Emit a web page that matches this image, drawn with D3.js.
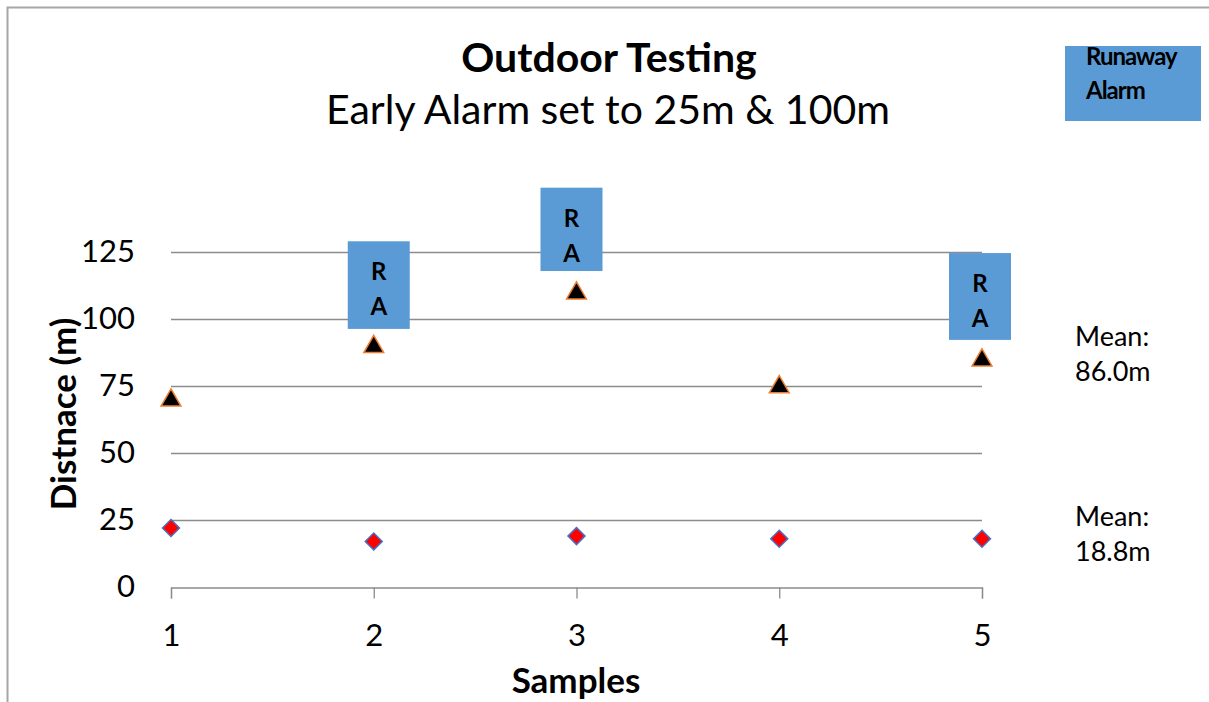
<!DOCTYPE html>
<html><head><meta charset="utf-8">
<script src="https://cdn.jsdelivr.net/npm/d3@7"></script>
<style>body{margin:0;background:#fff;} svg{display:block;}</style>
</head><body>
<svg id="c" width="1209" height="702"></svg>
<script>
const samples = [1, 2, 3, 4, 5];
const earlyAlarm100 = [70, 90, 110, 75, 85];
const earlyAlarm25 = [22, 17, 19, 18, 18];
const yTicks = [0, 25, 50, 75, 100, 125];
const raSamples = [2, 3, 5];
const raTop = [129, 149, 124.6];
const raBottom = [96.3, 117.9, 92.2];
const raOffset = [5, -5, -2];
const meanLabels = ["86.0m", "18.8m"];
const meanValues = [86.0, 18.8];

const FONT = "Lato, 'Open Sans', sans-serif";
const svg = d3.select("#c");
const x = d3.scaleLinear().domain([1, 5]).range([171, 982]);
const y = d3.scaleLinear().domain([0, 125]).range([587, 252]);

// border
svg.append("path").attr("d", "M7.5,702 V7.5 H1209").attr("fill", "none").attr("stroke", "#a6a6a6").attr("stroke-width", 2);

// gridlines
svg.append("g").selectAll("line").data(yTicks.filter(d => d > 0)).join("line")
  .attr("x1", x(1)).attr("x2", x(5)).attr("y1", d => y(d) + 0.5).attr("y2", d => y(d) + 0.5)
  .attr("stroke", "#8c8c8c").attr("stroke-width", 1.3);

// x axis
const xAxis = d3.axisBottom(x).tickValues(samples).tickFormat(d3.format("d")).tickSize(11).tickPadding(25);
const gx = svg.append("g").attr("transform", `translate(0,${y(0) + 0.5})`).call(xAxis);
gx.select(".domain").attr("stroke", "#8c8c8c").attr("stroke-width", 1.3);
gx.selectAll(".tick line").attr("stroke", "#8c8c8c").attr("stroke-width", 1.3);
gx.selectAll("text").attr("font-family", FONT).attr("font-size", 31).attr("fill", "#000");

// y axis labels
const yAxis = d3.axisLeft(y).tickValues(yTicks).tickSize(0).tickPadding(36);
const gy = svg.append("g").attr("transform", `translate(${x(1)},0)`).call(yAxis);
gy.select(".domain").remove();
gy.selectAll("text").attr("font-family", FONT).attr("font-size", 31).attr("fill", "#000");

// RA boxes
const ra = svg.append("g").selectAll("g").data(raSamples).join("g");
ra.append("rect")
  .attr("x", (d, i) => x(d) + raOffset[i] - 31).attr("width", 62)
  .attr("y", (d, i) => y(raTop[i])).attr("height", (d, i) => y(raBottom[i]) - y(raTop[i]))
  .attr("fill", "#5b9bd5");
ra.append("text").text("R")
  .attr("x", (d, i) => x(d) + raOffset[i]).attr("y", (d, i) => y(raTop[i]) + 39)
  .attr("text-anchor", "middle").attr("font-family", FONT).attr("font-weight", "bold").attr("font-size", 24);
ra.append("text").text("A")
  .attr("x", (d, i) => x(d) + raOffset[i]).attr("y", (d, i) => y(raTop[i]) + 74)
  .attr("text-anchor", "middle").attr("font-family", FONT).attr("font-weight", "bold").attr("font-size", 24);

// triangles
const tri = d3.symbol().type(d3.symbolTriangle).size(170);
svg.append("g").selectAll("path").data(samples).join("path")
  .attr("d", tri).attr("transform", (d, i) => `translate(${x(d)},${y(earlyAlarm100[i]) + 1})`)
  .attr("fill", "#000").attr("stroke", "#ed7d31").attr("stroke-width", 1.5);

// diamonds
svg.append("g").selectAll("rect").data(samples).join("rect")
  .attr("x", -6).attr("y", -6).attr("width", 12).attr("height", 12)
  .attr("transform", (d, i) => `translate(${x(d)},${y(earlyAlarm25[i])}) rotate(45)`)
  .attr("fill", "#ff0000").attr("stroke", "#4472c4").attr("stroke-width", 1.5);

// mean labels
const ml = svg.append("g").selectAll("text").data(meanValues).join("text")
  .attr("font-family", FONT).attr("font-size", 27).attr("fill", "#000")
  .attr("x", 1075).attr("y", d => y(d) - 11);
ml.append("tspan").attr("x", 1075).text("Mean:");
ml.append("tspan").attr("x", 1075).attr("dy", 35).text((d, i) => meanLabels[i]);

// titles
svg.append("text").text("Outdoor Testing").attr("x", 609).attr("y", 72)
  .attr("text-anchor", "middle").attr("font-family", FONT).attr("font-weight", "bold").attr("font-size", 41);
svg.append("text").text("Early Alarm set to 25m & 100m").attr("x", 608).attr("y", 124)
  .attr("text-anchor", "middle").attr("font-family", FONT).attr("font-size", 41);

// axis titles
svg.append("text").text("Samples").attr("x", 576).attr("y", 693)
  .attr("text-anchor", "middle").attr("font-family", FONT).attr("font-weight", "bold").attr("font-size", 35);
svg.append("text").text("Distnace (m)").attr("transform", "translate(76,414) rotate(-90)")
  .attr("text-anchor", "middle").attr("font-family", FONT).attr("font-weight", "bold").attr("font-size", 35);

// legend box
svg.append("rect").attr("x", 1065).attr("y", 46).attr("width", 136).attr("height", 75).attr("fill", "#5b9bd5");
svg.append("text").text("Runaway").attr("x", 1086).attr("y", 65).attr("font-family", FONT).attr("font-weight", "bold").attr("font-size", 24).attr("letter-spacing", -1);
svg.append("text").text("Alarm").attr("x", 1086).attr("y", 99).attr("font-family", FONT).attr("font-weight", "bold").attr("font-size", 24).attr("letter-spacing", -1);
</script>
</body></html>
